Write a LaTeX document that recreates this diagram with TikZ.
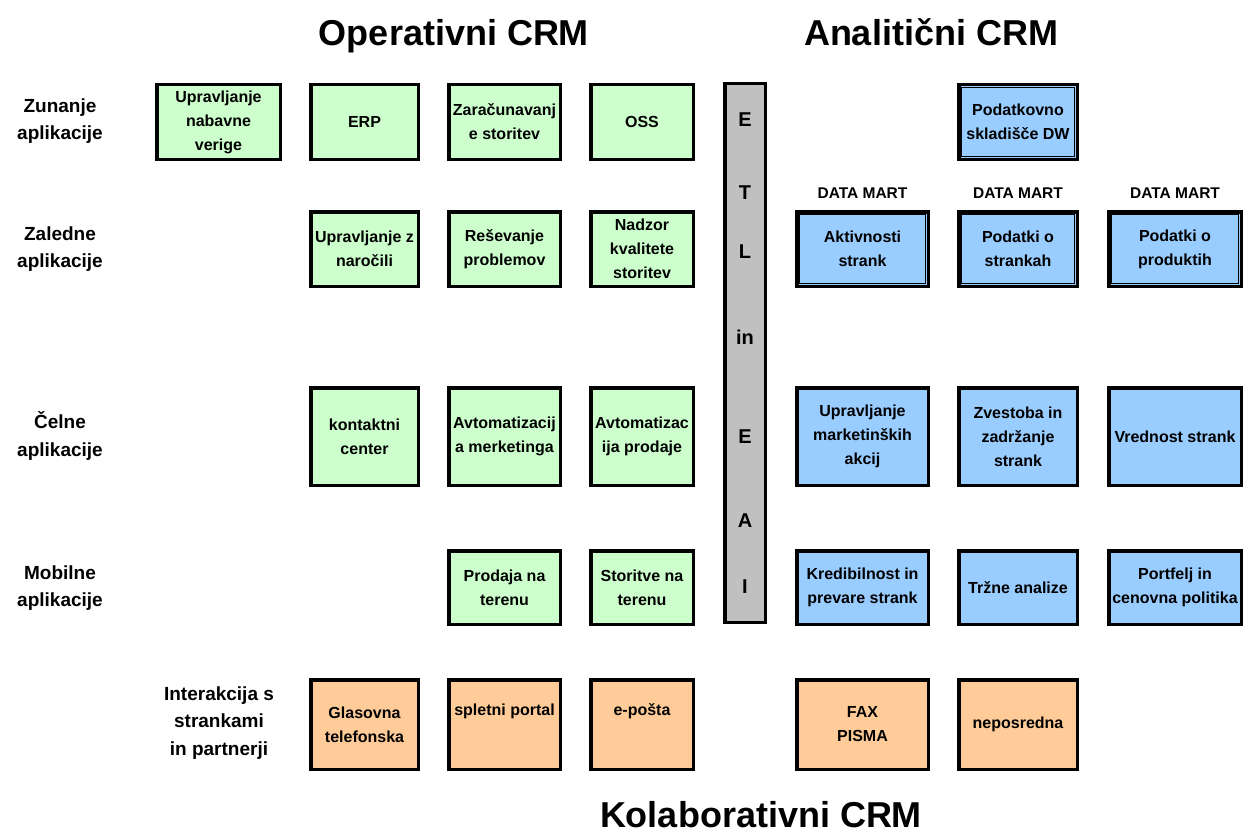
\documentclass[tikz,border=0pt]{standalone}
\usepackage{fontspec}
\setmainfont{Liberation Sans}
\definecolor{grn}{HTML}{CCFFCC}
\definecolor{blu}{HTML}{99CCFF}
\definecolor{org}{HTML}{FFCC99}
\definecolor{gry}{HTML}{C0C0C0}
\begin{document}
\begin{tikzpicture}[x=1pt,y=-1pt,
  box/.style={draw=black, line width=3.5pt, inner sep=0pt, align=center,
    font=\bfseries\fontsize{16}{24}\selectfont},
  gbox/.style={box, fill=grn},
  bbox/.style={box, fill=blu},
  obox/.style={box, fill=org},
  innerline/.style={draw=black, line width=1.3pt},
  c1/.style={minimum width=123.5pt},
  c2/.style={minimum width=107.5pt},
  c3/.style={minimum width=111.5pt},
  c4/.style={minimum width=102.5pt},
  cA/.style={minimum width=131.5pt},
  cB/.style={minimum width=118.5pt},
  cC/.style={minimum width=132.5pt},
  r1/.style={minimum height=74.5pt},
  r2/.style={minimum height=74.5pt},
  r3/.style={minimum height=97.5pt},
  r4/.style={minimum height=73.5pt},
  r5/.style={minimum height=89.5pt},
  lab/.style={align=center, inner sep=0pt, font=\bfseries\fontsize{19}{27.5}\selectfont},
  title/.style={anchor=base, inner sep=0pt, font=\bfseries\fontsize{36}{40}\selectfont},
  dmlab/.style={inner sep=0pt, font=\bfseries\fontsize{15.5}{18}\selectfont},
  etlch/.style={inner sep=0pt, font=\bfseries\fontsize{20}{24}\selectfont}
]
\useasboundingbox (0,0) rectangle (1244,832);

% titles
\node[title] (top) at (454,46) {Operativni CRM};
\node[title] (tan) at (931,46) {Analitični CRM};
\node[title] (tko) at (761,827) {Kolaborativni CRM};

% row labels
\node[lab] (lzun) at (60,121) {Zunanje\\aplikacije};
\node[lab] (lzal) at (60,249) {Zaledne\\aplikacije};
\node[lab] (lcel) at (60,436) {Čelne\\aplikacije};
\node[lab] (lmob) at (60,588) {Mobilne\\aplikacije};
\node[lab] (lint) at (219,723) {Interakcija s\\strankami\\in partnerji};

% operative CRM (green)
\node[gbox,c1,r1] (nab) at (218.5,122) {Upravljanje\\nabavne\\verige};
\node[gbox,c2,r1] (erp) at (364.5,122) {ERP};
\node[gbox,c3,r1] (zar) at (504.5,122) {Zaračunavanj\\e storitev};
\node[gbox,c4,r1] (oss) at (642,122) {OSS};

\node[gbox,c2,r2] (nar) at (364.5,249) {Upravljanje z\\naročili};
\node[gbox,c3,r2] (res) at (504.5,249) {Reševanje\\problemov};
\node[gbox,c4,r2] (nad) at (642,249) {Nadzor\\kvalitete\\storitev};

\node[gbox,c2,r3] (kon) at (364.5,436.5) {kontaktni\\center};
\node[gbox,c3,r3] (avm) at (504.5,436.5) {Avtomatizacij\\a merketinga};
\node[gbox,c4,r3] (avp) at (642,436.5) {Avtomatizac\\ija prodaje};

\node[gbox,c3,r4] (prt) at (504.5,587.5) {Prodaja na\\terenu};
\node[gbox,c4,r4] (stt) at (642,587.5) {Storitve na\\terenu};

% collaborative (orange)
\node[obox,c2,r5] (gla) at (364.5,724.5) {Glasovna\\telefonska};
\node[obox,c3,r5] (spl) at (504.5,724.5) {\raisebox{13pt}[\height][\depth]{spletni portal}};
\node[obox,c4,r5] (epo) at (642,724.5) {\raisebox{13pt}[\height][\depth]{e-pošta}};
\node[obox,cA,r5] (fax) at (862.5,724.5) {FAX\\PISMA};
\node[obox,cB,r5] (nep) at (1018,724.5) {neposredna};

% ETL / EAI bar
\node[draw=black, line width=3.5pt, fill=gry, minimum width=40.5pt, minimum height=538.5pt, inner sep=0pt] (etl) at (745,353) {};
\node[etlch] (e1) at (745,120) {E};
\node[etlch] (e2) at (745,193) {T};
\node[etlch] (e3) at (745,252) {L};
\node[etlch] (e4) at (745,337) {in};
\node[etlch] (e5) at (745,437) {E};
\node[etlch] (e6) at (745,521) {A};
\node[etlch] (e7) at (745,587) {I};

% analytic CRM (blue)
\node[bbox,cB,r1] (dw) at (1018,122) {Podatkovno\\skladišče DW};
\node[dmlab] (dml1) at (862.5,193) {DATA MART};
\node[dmlab] (dml2) at (1018,193) {DATA MART};
\node[dmlab] (dml3) at (1175,193) {DATA MART};
\node[bbox,cA,r2] (dm1) at (862.5,249) {Aktivnosti\\strank};
\node[bbox,cB,r2] (dm2) at (1018,249) {Podatki o\\strankah};
\node[bbox,cC,r2] (dm3) at (1175,249) {Podatki o\\produktih};
\foreach \n in {dw,dm1,dm2,dm3}{
  \draw[innerline] ([shift={(4.5,4.5)}]\n.north west) rectangle ([shift={(-4.5,-4.5)}]\n.south east);
}

\node[bbox,cA,r3] (upm) at (862.5,436.5) {Upravljanje\\marketinških\\akcij};
\node[bbox,cB,r3] (zve) at (1018,436.5) {Zvestoba in\\zadržanje\\strank};
\node[bbox,cC,r3] (vre) at (1175,436.5) {Vrednost strank};

\node[bbox,cA,r4] (kre) at (862.5,587.5) {Kredibilnost in\\prevare strank};
\node[bbox,cB,r4] (trz) at (1018,587.5) {Tržne analize};
\node[bbox,cC,r4] (por) at (1175,587.5) {Portfelj in\\cenovna politika};
\end{tikzpicture}
\end{document}
